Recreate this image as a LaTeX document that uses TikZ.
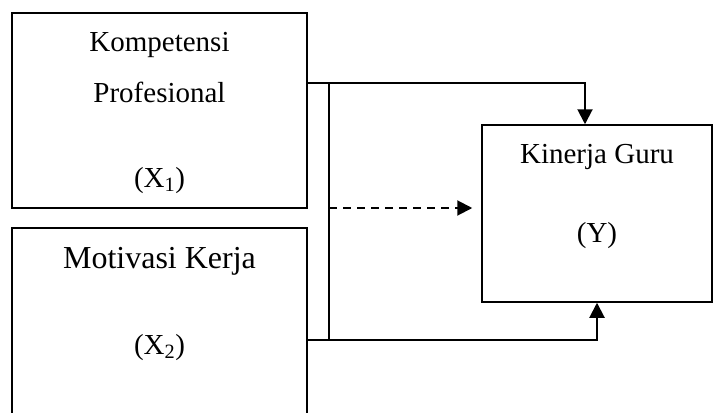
\documentclass[tikz,border=0pt]{standalone}
\usepackage{fontspec}
\setmainfont{Liberation Serif}
\usetikzlibrary{positioning}
\usetikzlibrary{arrows.meta}

\begin{document}
\begin{tikzpicture}[x=1pt, y=-1pt]
  \tikzset{
    box/.style={draw, line width=1.5pt, inner sep=0pt},
    label text/.style={anchor=base, inner sep=0pt, font=\fontsize{29}{34}\selectfont},
    link/.style={line width=2pt},
    link tip/.style={-{Triangle[length=15pt, width=15pt]}}
  }
  \useasboundingbox (0,0) rectangle (722,412);
  \clip (0,0) rectangle (722,412);

  % Boxes
  \node[box, minimum width=295pt, minimum height=195pt] (kp) at (159.5,110.5) {};
  \node[box, minimum width=295pt, minimum height=220pt] (mk) at (159.5,338) {};
  \node[box, minimum width=230pt, minimum height=177pt] (kg) at (597,213.5) {};

  % Texts
  \node[label text] (kp1) at (159.5,52) {Kompetensi};
  \node[label text] (kp2) at (159.5,102) {Profesional};
  \node[label text] (kp3) at (159.5,187) {(X\textsubscript{1})};
  \node[label text, font=\fontsize{32}{38}\selectfont] (mk1) at (159.5,268) {Motivasi Kerja};
  \node[label text] (mk2) at (159.5,354) {(X\textsubscript{2})};
  \node[label text] (kg1) at (597,163) {Kinerja Guru};
  \node[label text] (kg2) at (597,242) {(Y)};

  % Connectors
  \coordinate (bus top) at (329,83);
  \coordinate (bus mid) at (329,208);
  \coordinate (bus bot) at (329,340);
  \draw[link] (bus top) -- (bus bot);
  \draw[link, link tip] (kp.east |- bus top) -| ([xshift=-12pt]kg.north);
  \draw[link, link tip] (mk.east |- bus bot) -| (kg.south);
  \draw[link, link tip, dash pattern=on 8pt off 6pt, shorten >=9pt] (bus mid) -- (bus mid -| kg.west);
\end{tikzpicture}
\end{document}
